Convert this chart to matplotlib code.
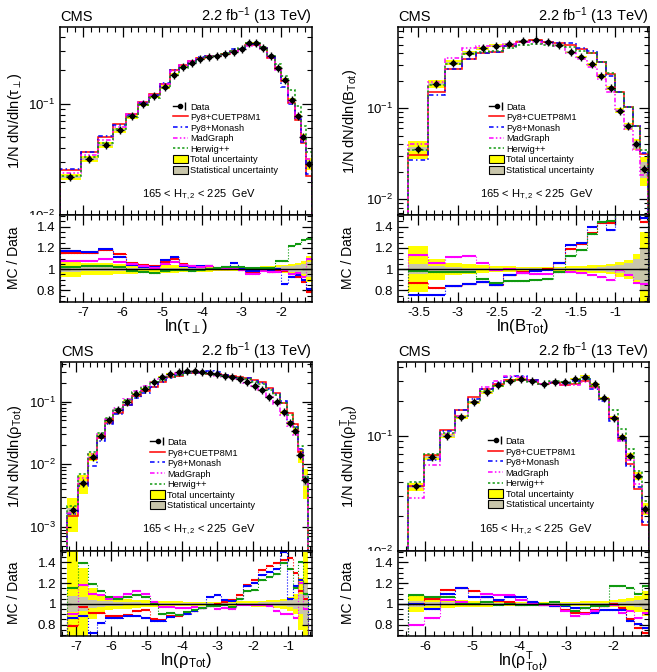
import numpy as np
import matplotlib
matplotlib.use('Agg')
import matplotlib.pyplot as plt
from matplotlib.patches import Patch, Rectangle
from matplotlib.lines import Line2D
from matplotlib.legend_handler import HandlerTuple
from matplotlib.ticker import MultipleLocator, FixedLocator, FuncFormatter, NullFormatter, LogLocator

plt.rcParams['font.family'] = ['Liberation Sans', 'DejaVu Sans']
plt.rcParams['mathtext.fontset'] = 'custom'
plt.rcParams['mathtext.rm'] = 'Liberation Sans'
plt.rcParams['mathtext.it'] = 'Liberation Sans:italic'
plt.rcParams['mathtext.bf'] = 'Liberation Sans:bold'

# ---------------- ln(tau_perp)
tau_edges = [-7.58, -7.06, -6.62, -6.24, -5.91, -5.61, -5.34, -5.06, -4.81, -4.58, -4.35, -4.14, -3.93, -3.72,
             -3.51, -3.30, -3.09, -2.90, -2.71, -2.54, -2.35, -2.16, -2.00, -1.82, -1.65, -1.51, -1.36, -1.22]
tau_data = [0.022, 0.032, 0.043, 0.058, 0.077, 0.100, 0.118, 0.142, 0.183, 0.214, 0.234, 0.254, 0.262, 0.268,
            0.281, 0.294, 0.311, 0.351, 0.351, 0.318, 0.268, 0.209, 0.163, 0.108, 0.077, 0.050, 0.0288]
tau_tot = [0.07, 0.06, 0.06, 0.05, 0.05, 0.04, 0.04, 0.04, 0.035, 0.03, 0.03, 0.03, 0.025, 0.02,
           0.02, 0.02, 0.02, 0.02, 0.02, 0.025, 0.03, 0.035, 0.04, 0.05, 0.06, 0.08, 0.12]
tau_stat = [0.025, 0.02, 0.02, 0.015, 0.015, 0.012, 0.01, 0.01, 0.01, 0.01, 0.01, 0.01, 0.01, 0.01,
            0.01, 0.01, 0.01, 0.01, 0.01, 0.012, 0.015, 0.02, 0.025, 0.03, 0.04, 0.05, 0.07]
tau_cuetp8m1 = [1.15, 1.15, 1.18, 1.14, 1.06, 1.04, 1.03, 1.07, 1.10, 1.05, 1.03, 1.02, 1.03, 1.00,
                1.00, 1.01, 0.99, 0.96, 0.97, 0.99, 0.97, 0.99, 0.98, 0.95, 0.93, 0.88, 0.78]
tau_monash = [1.17, 1.16, 1.19, 1.11, 1.04, 1.02, 1.02, 1.09, 1.11, 1.03, 1.02, 1.03, 1.03, 1.01,
              1.02, 1.06, 1.00, 0.98, 0.98, 1.00, 0.99, 1.00, 0.86, 0.93, 0.94, 0.90, 0.81]
tau_madgraph = [1.08, 1.08, 1.10, 1.07, 1.05, 1.03, 1.01, 1.05, 1.07, 1.04, 1.03, 1.02, 1.03, 1.00,
                1.00, 1.01, 0.99, 0.95, 0.95, 0.98, 0.97, 0.97, 0.99, 0.95, 0.96, 0.93, 1.10]
tau_herwig = [1.02, 1.03, 1.03, 1.02, 0.98, 0.97, 0.96, 0.98, 0.99, 0.99, 0.98, 0.99, 1.00, 1.01,
              1.02, 1.02, 1.02, 1.01, 1.01, 1.01, 1.01, 1.08, 1.08, 1.22, 1.24, 1.27, 1.28]

# ---------------- ln(B_Tot)
b_edges = [-3.627, -3.381, -3.161, -2.949, -2.767, -2.598, -2.428, -2.259, -2.090, -1.924, -1.785,
           -1.636, -1.496, -1.36, -1.233, -1.115, -1.0, -0.886, -0.776, -0.683, -0.578]
b_data = [0.0355, 0.184, 0.317, 0.408, 0.456, 0.488, 0.509, 0.549, 0.563, 0.54,
          0.497, 0.419, 0.363, 0.305, 0.226, 0.166, 0.094, 0.063, 0.040, 0.0216]
b_tot = [0.22, 0.10, 0.06, 0.05, 0.04, 0.03, 0.025, 0.02, 0.02, 0.02,
         0.02, 0.025, 0.03, 0.035, 0.04, 0.05, 0.07, 0.09, 0.14, 0.35]
b_stat = [0.05, 0.03, 0.02, 0.015, 0.01, 0.01, 0.01, 0.01, 0.01, 0.01,
          0.01, 0.01, 0.012, 0.015, 0.02, 0.03, 0.04, 0.06, 0.1, 0.2]
b_cuetp8m1 = [0.87, 0.82, 0.84, 0.86, 0.88, 0.85, 0.94, 0.97, 0.99, 1.00,
              1.06, 1.19, 1.24, 1.34, 1.43, 1.43, 1.6, 1.65, 1.6, 1.44]
b_monash = [0.76, 0.76, 0.84, 0.86, 0.88, 0.85, 0.94, 0.96, 0.98, 0.99,
            1.06, 1.23, 1.25, 1.40, 1.44, 1.37, 1.6, 1.65, 1.6, 1.48]
b_madgraph = [1.13, 1.06, 1.11, 1.12, 1.06, 0.99, 1.00, 0.96, 0.95, 0.95,
              0.97, 0.97, 0.96, 0.94, 0.93, 0.90, 0.99, 0.94, 0.87, 0.86]
b_herwig = [0.98, 0.97, 0.975, 0.97, 0.91, 0.87, 0.89, 0.89, 0.90, 0.91,
            0.97, 1.12, 1.18, 1.33, 1.44, 1.45, 1.6, 1.65, 1.6, 1.6]

# ---------------- ln(rho_Tot)
rho_edges = [-7.25, -6.93, -6.65, -6.40, -6.18, -5.94, -5.68, -5.42, -5.17, -4.92, -4.685, -4.45, -4.21, -3.98,
             -3.75, -3.545, -3.33, -3.11, -2.90, -2.695, -2.485, -2.27, -2.055, -1.85, -1.64, -1.435, -1.23,
             -1.04, -0.88, -0.725, -0.585, -0.45]
rho_data = [0.00185, 0.00506, 0.0132, 0.0283, 0.0509, 0.0736, 0.100, 0.131, 0.160, 0.204, 0.245, 0.277, 0.295,
            0.313, 0.313, 0.295, 0.284, 0.274, 0.261, 0.251, 0.231, 0.204, 0.180, 0.154, 0.120, 0.100, 0.0676,
            0.045, 0.034, 0.014, 0.0056]
rho_tot = [0.55, 0.35, 0.15, 0.08, 0.06, 0.05, 0.045, 0.04, 0.035, 0.03, 0.03, 0.025, 0.025, 0.02, 0.02, 0.02,
           0.02, 0.02, 0.02, 0.02, 0.025, 0.025, 0.03, 0.03, 0.035, 0.04, 0.05, 0.07, 0.1, 0.25, 0.5]
rho_stat = [0.08, 0.07, 0.04, 0.03, 0.025, 0.02, 0.015, 0.015, 0.01, 0.01, 0.01, 0.01, 0.01, 0.01, 0.01, 0.01,
            0.01, 0.01, 0.01, 0.01, 0.01, 0.012, 0.012, 0.015, 0.015, 0.02, 0.025, 0.035, 0.05, 0.1, 0.2]
rho_cuetp8m1 = [0.79, 0.97, 0.91, 0.91, 0.885, 0.88, 0.895, 0.93, 0.94, 0.85, 0.84, 0.88, 0.88, 0.91, 0.93, 0.96,
                0.975, 1.0, 1.02, 1.04, 1.09, 1.18, 1.23, 1.33, 1.37, 1.39, 1.42, 1.44, 1.30, 1.12, 1.05]
rho_monash = [0.86, 0.88, 0.72, 0.82, 0.86, 0.86, 0.88, 0.88, 0.86, 0.83, 0.83, 0.87, 0.89, 0.90, 0.93, 0.96,
              1.07, 1.09, 1.04, 1.03, 1.05, 1.17, 1.20, 1.28, 1.31, 1.34, 1.50, 1.05, 1.17, 1.23, 1.10]
rho_madgraph = [0.90, 1.18, 1.10, 1.09, 1.05, 1.07, 1.10, 1.12, 1.10, 1.02, 0.97, 0.97, 0.96, 0.96, 0.97, 0.96,
                0.975, 0.95, 0.96, 0.95, 0.99, 0.99, 0.99, 0.99, 0.98, 0.93, 0.90, 0.90, 0.86, 1.20, 0.95]
rho_herwig = [1.15, 1.39, 1.19, 1.12, 1.07, 1.05, 1.07, 1.085, 1.07, 1.0, 0.90, 0.91, 0.89, 0.92, 0.94, 0.96,
              0.975, 0.98, 0.99, 0.97, 1.05, 1.12, 1.13, 1.23, 1.26, 1.29, 1.39, 1.34, 1.15, 1.40, 1.10]

# ---------------- ln(rho^T_Tot)
rhot_edges = [-6.354, -6.015, -5.68, -5.37, -5.09, -4.82, -4.56, -4.32, -4.075, -3.84, -3.59, -3.36,
              -3.13, -2.91, -2.71, -2.49, -2.30, -2.085, -1.90, -1.73, -1.556, -1.39, -1.24]
rhot_data = [0.0364, 0.0653, 0.100, 0.147, 0.196, 0.241, 0.276, 0.303, 0.313, 0.300, 0.286,
             0.296, 0.296, 0.313, 0.329, 0.281, 0.213, 0.144, 0.0986, 0.0666, 0.0448, 0.0233]
rhot_tot = [0.08, 0.05, 0.04, 0.035, 0.03, 0.03, 0.025, 0.025, 0.02, 0.02, 0.02,
            0.02, 0.02, 0.02, 0.025, 0.025, 0.03, 0.035, 0.045, 0.06, 0.08, 0.12]
rhot_stat = [0.03, 0.02, 0.015, 0.012, 0.01, 0.01, 0.01, 0.01, 0.01, 0.01, 0.01,
             0.01, 0.01, 0.01, 0.01, 0.01, 0.012, 0.015, 0.02, 0.025, 0.035, 0.05]
rhot_cuetp8m1 = [1.0, 1.045, 1.13, 1.15, 1.12, 1.07, 1.03, 1.02, 0.99, 1.02, 0.99,
                 0.975, 0.94, 0.91, 0.91, 0.94, 0.975, 1.0, 0.96, 0.85, 0.77, 0.72]
rhot_monash = [1.0, 0.95, 1.10, 1.15, 1.07, 1.07, 1.04, 1.07, 1.07, 1.02, 0.99,
               0.975, 0.975, 0.96, 0.96, 0.91, 0.94, 0.94, 0.94, 0.83, 0.81, 0.77]
rhot_madgraph = [0.80, 0.86, 1.04, 1.02, 1.0, 1.10, 1.09, 1.09, 1.04, 1.0, 0.99,
                 0.99, 0.93, 0.88, 0.90, 0.93, 0.975, 0.99, 0.91, 0.93, 0.86, 0.91]
rhot_herwig = [1.086, 1.07, 1.07, 1.0, 1.0, 1.02, 0.99, 1.0, 0.99, 0.99, 1.0,
               1.02, 0.99, 0.93, 0.96, 0.975, 0.975, 1.17, 1.17, 1.15, 1.10, 1.17]

YELLOW = '#ffff00'
GREY = '#c8c5aa'
mc_styles = [('Py8+CUETP8M1', '#ff0000', '-'),
             ('Py8+Monash', '#0000ff', (0, (3, 2, 1, 2))),
             ('MadGraph', '#ff00ff', (0, (3, 1.5, 1, 1.5, 1, 1.5))),
             ('Herwig++', '#109910', (0, (1.5, 1.5)))]

W, H = 657.0, 672.0


def px_axes(left, top, right, bottom):
    return [left / W, 1 - bottom / H, (right - left) / W, (bottom - top) / H]


def draw_panel(fig, box_main, box_ratio, edges, data, tot, stat, ratios, xlim, ylim,
               xmaj, xmin, leg_xy, txt_xy):
    edges = np.array(edges)
    data = np.array(data)
    tot = np.array(tot)
    stat = np.array(stat)
    centers = 0.5 * (edges[1:] + edges[:-1])
    widths = np.diff(edges)

    ax = fig.add_axes(box_main)
    rax = fig.add_axes(box_ratio)

    # main plot
    ax.bar(edges[:-1], 2 * tot * data, bottom=data * (1 - tot), width=widths, align='edge',
           color=YELLOW, lw=0, zorder=1)
    ax.bar(edges[:-1], 2 * stat * data, bottom=data * (1 - stat), width=widths, align='edge',
           color=GREY, lw=0, zorder=1)
    handles = []
    for (name, col, ls), r in zip(mc_styles, ratios):
        ax.stairs(data * np.array(r), edges, baseline=1e-6, color=col, linestyle=ls, lw=1.1, zorder=2)
        handles.append(Line2D([], [], color=col, linestyle=ls, lw=1.1))
    ax.plot(centers, data, 'o', color='k', ms=3, zorder=4)
    ax.plot(centers, data, '+', color='k', ms=6, mew=1.0, zorder=4)
    ax.set_yscale('log')
    ax.set_xlim(xlim)
    ax.set_ylim(ylim)
    ax.yaxis.set_major_locator(LogLocator(base=10, numticks=10))
    ax.yaxis.set_minor_locator(LogLocator(base=10, subs=np.arange(2, 10), numticks=20))
    ax.yaxis.set_minor_formatter(NullFormatter())
    ax.xaxis.set_major_locator(MultipleLocator(xmaj))
    ax.xaxis.set_minor_locator(MultipleLocator(xmin))
    ax.tick_params(which='both', direction='in', top=True, right=True, labelbottom=False, labelsize=9.5)
    ax.tick_params(which='major', length=7, width=0.9)
    ax.tick_params(which='minor', length=3.5, width=0.8)
    ax.set_title('CMS', loc='left', fontsize=10.5, pad=3)
    ax.set_title(r'2.2 fb$^{\mathregular{-1}}$ (13 TeV)', loc='right', fontsize=10.5, pad=3)

    data_handle = (Line2D([], [], color='k', lw=1.0),
                   Line2D([], [], color='k', marker='o', ms=3, ls='none'),
                   Line2D([], [], color='k', marker='|', ms=6, mew=1.0, ls='none'))
    all_handles = [data_handle] + handles + [Patch(facecolor=YELLOW, edgecolor='k', lw=0.8),
                                             Patch(facecolor=GREY, edgecolor='k', lw=0.8)]
    labels = ['Data'] + [m[0] for m in mc_styles] + ['Total uncertainty', 'Statistical uncertainty']
    ax.legend(all_handles, labels, loc='upper left', bbox_to_anchor=leg_xy, frameon=False,
              fontsize=6.7, labelspacing=0.13, handlelength=1.6, handleheight=1.0,
              handletextpad=0.25, borderpad=0, borderaxespad=0,
              handler_map={tuple: HandlerTuple(ndivide=None)})
    ax.text(txt_xy[0], txt_xy[1], r'165 < H$_{\mathregular{T,2}}$ < 225  GeV', transform=ax.transAxes,
            ha='center', va='center', fontsize=8)

    # ratio plot
    rax.stairs(1 + tot, edges, baseline=1 - tot, fill=True, color=YELLOW, lw=0, zorder=1)
    rax.stairs(1 + stat, edges, baseline=1 - stat, fill=True, color=GREY, lw=0, zorder=1)
    for (name, col, ls), r in zip(mc_styles, ratios):
        rax.hlines(r, edges[:-1], edges[1:], color=col, lw=1.5, zorder=2)
        rax.stairs(r, edges, color=col, linestyle=':', lw=0.8, zorder=2)
    rax.axhline(1, color='k', lw=1, zorder=3)
    rax.set_xlim(xlim)
    rax.set_ylim(0.69, 1.51)
    rax.yaxis.set_major_locator(FixedLocator([0.8, 1.0, 1.2, 1.4]))
    rax.yaxis.set_major_formatter(FuncFormatter(lambda v, p: '%g' % v))
    rax.yaxis.set_minor_locator(MultipleLocator(0.05))
    rax.xaxis.set_major_locator(MultipleLocator(xmaj))
    rax.xaxis.set_minor_locator(MultipleLocator(xmin))
    rax.xaxis.set_major_formatter(FuncFormatter(lambda v, p: '%g' % v))
    rax.tick_params(which='both', direction='in', top=True, right=True, labelsize=9.5)
    rax.tick_params(which='major', length=7, width=0.9)
    rax.tick_params(which='minor', length=3.5, width=0.8)
    for a in (ax, rax):
        for s in a.spines.values():
            s.set_linewidth(1.1)
    return ax, rax


fig = plt.figure(figsize=(6.57, 6.72), dpi=100)

draw_panel(fig, px_axes(60, 27, 312, 215), px_axes(60, 215, 312, 302), tau_edges, tau_data, tau_tot, tau_stat,
           [tau_cuetp8m1, tau_monash, tau_madgraph, tau_herwig], (-7.58, -1.22), (0.01, 0.49), 1, 0.2,
           (0.448, 0.60), (0.55, 0.106))
draw_panel(fig, px_axes(398, 27, 649, 215), px_axes(398, 215, 649, 302), b_edges, b_data, b_tot, b_stat,
           [b_cuetp8m1, b_monash, b_madgraph, b_herwig], (-3.76, -0.57), (0.0067, 0.78), 0.5, 0.1,
           (0.363, 0.60), (0.552, 0.106))
draw_panel(fig, px_axes(61, 362, 312, 551), px_axes(61, 551, 312, 636), rho_edges, rho_data, rho_tot, rho_stat,
           [rho_cuetp8m1, rho_monash, rho_madgraph, rho_herwig], (-7.42, -0.33), (4.1e-4, 0.43), 1, 0.2,
           (0.355, 0.60), (0.55, 0.111))
draw_panel(fig, px_axes(398, 362, 649, 551), px_axes(398, 551, 649, 636), rhot_edges, rhot_data, rhot_tot,
           rhot_stat, [rhot_cuetp8m1, rhot_monash, rhot_madgraph, rhot_herwig], (-6.57, -1.24), (0.01, 0.44),
           1, 0.2, (0.36, 0.605), (0.55, 0.111))

# axis titles
fig.text(15 / W, 1 - 121 / H, r'1/N dN/dln($\mathregular{\tau_{\perp}}$)', rotation=90, ha='center', va='center', fontsize=10.5)
fig.text(350 / W, 1 - 121 / H, r'1/N dN/dln(B$_{\mathregular{Tot}}$)', rotation=90, ha='center', va='center', fontsize=10.5)
fig.text(15 / W, 1 - 456 / H, r'1/N dN/dln(ρ$_{\mathregular{Tot}}$)', rotation=90, ha='center', va='center', fontsize=10.5)
fig.text(350 / W, 1 - 456 / H, r'1/N dN/dln(ρ$^{\mathregular{T}}_{\mathregular{Tot}}$)', rotation=90, ha='center', va='center', fontsize=10.5)
for x, y in [(14, 258), (348, 258), (14, 593), (348, 593)]:
    fig.text(x / W, 1 - y / H, 'MC / Data', rotation=90, ha='center', va='center', fontsize=10)

fig.text(186 / W, 1 - 327 / H, r'ln($\mathregular{\tau_{\perp}}$)', ha='center', va='center', fontsize=12)
fig.text(523 / W, 1 - 327 / H, r'ln(B$_{\mathregular{Tot}}$)', ha='center', va='center', fontsize=12)
fig.text(186 / W, 1 - 661 / H, r'ln(ρ$_{\mathregular{Tot}}$)', ha='center', va='center', fontsize=12)
fig.text(523 / W, 1 - 661 / H, r'ln(ρ$^{\mathregular{T}}_{\mathregular{Tot}}$)', ha='center', va='center', fontsize=11.5)

# ratio pad covers the lower half of the bottom log label
fig.patches.append(Rectangle((20 / W, 1 - 221 / H), 39 / W, 6 / H, transform=fig.transFigure,
                             facecolor='white', edgecolor='none', zorder=10))
fig.patches.append(Rectangle((358 / W, 1 - 557 / H), 39 / W, 6 / H, transform=fig.transFigure,
                             facecolor='white', edgecolor='none', zorder=10))

fig.savefig('out.png', dpi=100)
